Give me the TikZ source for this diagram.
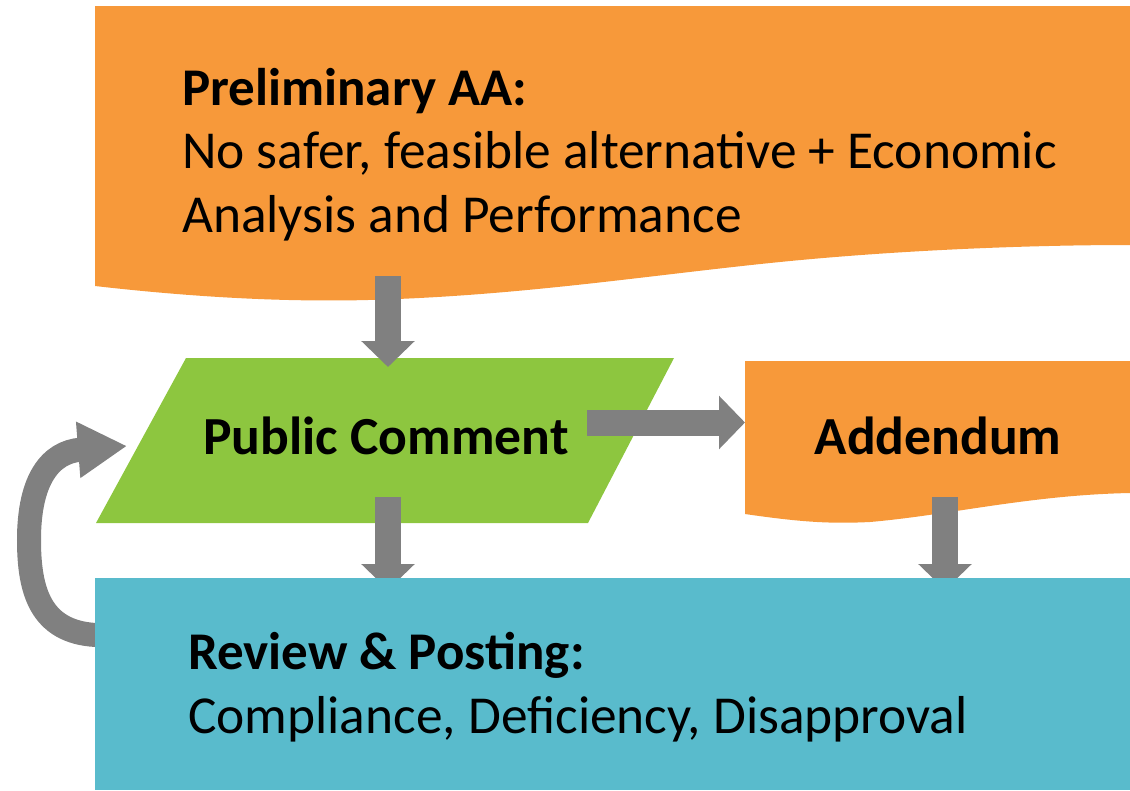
\documentclass[tikz,border=0pt]{standalone}
\usepackage{fontspec}
\setmainfont{Carlito}
\usetikzlibrary{arrows.meta}
\definecolor{orangeF}{RGB}{247,153,58}
\definecolor{greenF}{RGB}{141,198,63}
\definecolor{tealF}{RGB}{89,187,204}
\definecolor{grayA}{RGB}{128,128,128}
\begin{document}
\begin{tikzpicture}[x=1pt,y=-1pt,
  txt/.style={inner sep=0pt, anchor=base west, font=\fontsize{53.4}{64}\selectfont},
  btxt/.style={inner sep=0pt, anchor=base west, font=\fontsize{53}{64}\selectfont\bfseries},
  ctxt/.style={inner sep=0pt, anchor=base, font=\fontsize{53.6}{64}\selectfont\bfseries},
  flowarrow/.style={draw=grayA, line width=26pt, -{Triangle[length=26pt,width=52pt]}},
  looparrow/.style={draw=grayA, line width=24pt, -{Triangle[length=49pt,width=53pt]}}]
\useasboundingbox (0,0) rectangle (1130,790);
% Preliminary AA document shape
\fill[orangeF] (95,6) -- (1130,6) -- (1130,245)
  .. controls (1030,245) and (900,250) .. (780,262)
  .. controls (650,275) and (520,296) .. (368,300)
  .. controls (290,302) and (200,298) .. (95,286) -- cycle;
\node[btxt] (pretitle) at (182,105) {Preliminary AA:};
\node[txt] (preline1) at (182,168) {No safer, feasible alternative + Economic};
\node[txt] (preline2) at (182,232) {Analysis and Performance};
% Public comment parallelogram
\fill[greenF] (186,358) -- (674,358) -- (588,523) -- (96,523) -- cycle;
\node[ctxt] (pc) at (386,454) {Public Comment};
% Addendum document shape
\fill[orangeF] (745,361) -- (1130,361) -- (1130,493)
  .. controls (1030,495) and (950,515) .. (870,522)
  .. controls (830,524) and (800,522) .. (745,514) -- cycle;
\node[ctxt] (add) at (938,454) {Addendum};
% connector end points
\coordinate (preOut) at (388,276);
\coordinate (pcIn) at (388,367);
\coordinate (pcRight) at (587,422.5);
\coordinate (addIn) at (745,422.5);
\coordinate (pcOut) at (388,497);
\coordinate (addOut) at (945,497);
\coordinate (revInA) at (388,590);
\coordinate (revInB) at (945,590);
\coordinate (revLeft) at (96,635);
\coordinate (pcLeft) at (127,446);
% connectors
\draw[flowarrow] (preOut) -- (pcIn);
\draw[flowarrow] (pcRight) -- (addIn);
\draw[flowarrow] (pcOut) -- (revInA);
\draw[flowarrow] (addOut) -- (revInB);
\draw[looparrow] (revLeft) .. controls (40,632) and (29,590) .. (29,540)
  .. controls (29,480) and (50,452) .. (pcLeft);
% Review & Posting box
\fill[tealF] (95,578) rectangle (1130,790);
\node[btxt] (revtitle) at (188,669) {Review \& Posting:};
\node[txt] (revline) at (188,733) {Compliance, Deficiency, Disapproval};
\end{tikzpicture}
\end{document}
